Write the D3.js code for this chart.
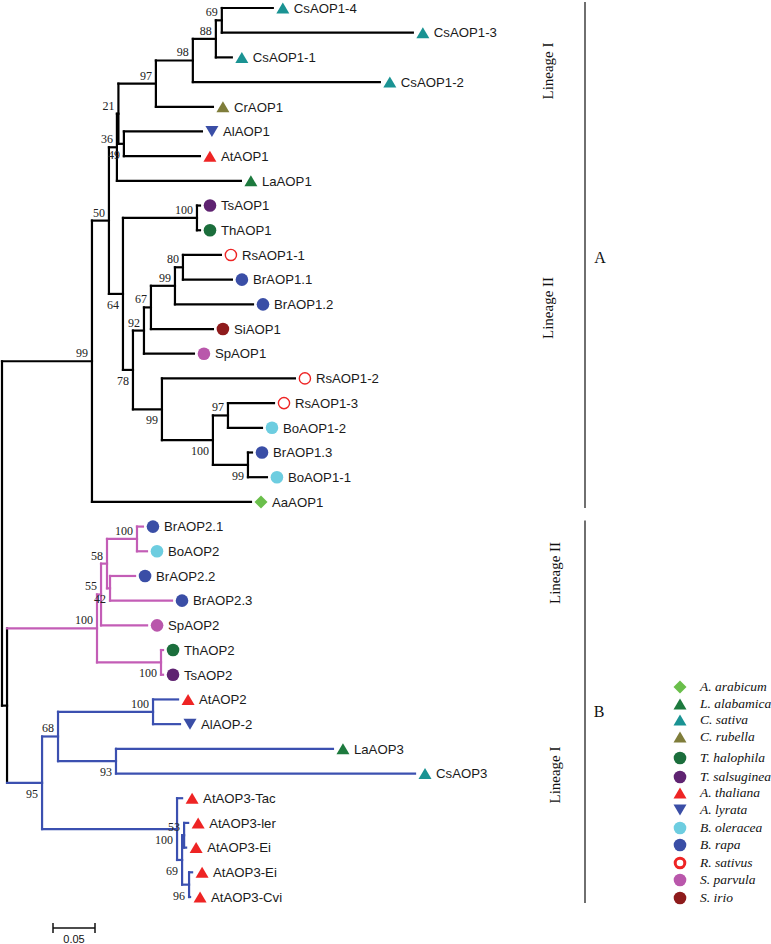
<!DOCTYPE html>
<html><head><meta charset="utf-8">
<script src="https://cdn.jsdelivr.net/npm/d3@7"></script>
<style>body{margin:0;background:#fff}</style>
</head><body><svg id="chart" width="771" height="944"></svg>
<script>
// ---------- DATA ----------
// Tree topology, branch lengths (substitutions/site) and bootstrap values
const cladeA = "((((((((CsAOP1-4:0.0607,CsAOP1-3:0.2274)69:0.0071,CsAOP1-1:0.0190)88:0.0274,CsAOP1-2:0.2226)98:0.0440,CrAOP1:0.0679)97:0.0446,(AlAOP1:0.0929,AtAOP1:0.0905)49:0.0065)21:0.0018,LaAOP1:0.1476)36:0.0095,((TsAOP1:0.0036,ThAOP1:0.0036)100:0.0881,(((((RsAOP1-1:0.0452,BrAOP1.1:0.0583)80:0.0095,BrAOP1.2:0.0929)99:0.0286,SiAOP1:0.0738)67:0.0083,SpAOP1:0.0595)92:0.0131,(RsAOP1-2:0.1583,((RsAOP1-3:0.0548,BoAOP1-2:0.0405)97:0.0179,(BrAOP1.3:0.0048,BoAOP1-1:0.0226)99:0.0417)100:0.0607)99:0.0345)78:0.0119)64:0.0167)50:0.0202,AaAOP1:0.1893)99:0.1071";
const cladeB = "(((((BrAOP2.1:0.0071,BoAOP2:0.0119)100:0.0357,(BrAOP2.2:0.0298,BrAOP2.3:0.0738)42:0.0036)58:0.0071,SpAOP2:0.0548)55:0.0048,(ThAOP2:0.0024,TsAOP2:0.0024)100:0.0762)100:0.1071,(((AtAOP2:0.0298,AlAOP-2:0.0321)100:0.1131,(LaAOP3:0.2583,CsAOP3:0.3560)93:0.0690)68:0.0190,(AtAOP3-Tac:0.0060,((AtAOP3-ler:0.0048,AtAOP3-Ei:0.0024)53:0.0024,(AtAOP3-Ei:0.0036,AtAOP3-Cvi:0.0012)96:0.0083)69:0.0060)100:0.1607)95:0.0417):0.0060";
const newick = "(" + cladeA + "," + cladeB + ");";

// Species legend
const speciesNames  = ["A. arabicum","L. alabamica","C. sativa","C. rubella","T. halophila","T. salsuginea","A. thaliana","A. lyrata","B. oleracea","B. rapa","R. sativus","S. parvula","S. irio"];
const speciesPrefix = ["Aa","La","Cs","Cr","Th","Ts","At","Al","Bo","Br","Rs","Sp","Si"];
const speciesShape  = ["diamond","triangle","triangle","triangle","circle","circle","triangle","triangleDown","circle","circle","ring","circle","circle"];
const speciesColor  = ["#6abf4b","#1d7a3e","#1a9393","#7f7d3a","#1b6e3c","#5f2371","#ee2424","#3a4ea6","#6dcde0","#3a4ea6","#ee2424","#b957ab","#8e1b1c"];

// Coloured sub-clades (defined by two leaves spanning them)
const cladeColourLeaves = [["BrAOP2.1","TsAOP2"],["AtAOP2","AtAOP3-Cvi"]];
const cladeColours = ["#c35db6","#3b50b0"];

const groupLabels = ["A","B"];
const lineageLabels = ["Lineage I","Lineage II","Lineage II","Lineage I"];
const scaleBarValue = 0.05;

// ---------- LAYOUT ----------
const W = 771, H = 944;
const svg = d3.select("#chart");

function parseNewick(s){
  let i = 0;
  function node(){
    const n = {};
    if (s[i] === "("){
      n.children = [];
      i++;
      n.children.push(node());
      while (s[i] === ","){ i++; n.children.push(node()); }
      i++;
    }
    let name = "";
    while (i < s.length && !",():;".includes(s[i])) name += s[i++];
    n.name = name.trim();
    n.length = 0;
    if (s[i] === ":"){
      i++; let l = "";
      while (i < s.length && !",();".includes(s[i])) l += s[i++];
      n.length = +l;
    }
    return n;
  }
  return node();
}

const root = d3.hierarchy(parseNewick(newick));
root.eachBefore(d => { d.len = (d.parent ? d.parent.len : 0) + d.data.length; });
const leaves = root.leaves();

const x = d3.scaleLinear().domain([0, 1]).range([2, 842]);
const y = d3.scaleLinear().domain([0, leaves.length - 1]).range([8, 897]);

leaves.forEach((d, i) => d.py = y(i));
root.eachAfter(d => {
  if (d.children) d.py = (d.children[0].py + d.children[d.children.length - 1].py) / 2;
  d.px = x(d.len);
});

// colours
root.each(d => d.color = "#000");
cladeColourLeaves.forEach((pair, k) => {
  const a = leaves.find(l => l.data.name === pair[0]);
  const b = leaves.find(l => l.data.name === pair[1]);
  const lca = a.path(b).reduce((m, n) => n.depth < m.depth ? n : m);
  lca.each(d => d.color = cladeColours[k]);
});

const gTree = svg.append("g");
// vertical connectors
root.descendants().filter(d => d.children).forEach(d => {
  gTree.append("line")
    .attr("x1", d.px).attr("x2", d.px)
    .attr("y1", d.children[0].py).attr("y2", d.children[d.children.length - 1].py)
    .attr("stroke", d.color).attr("stroke-width", 2.2).attr("stroke-linecap", "square");
});
// horizontal branches
root.descendants().filter(d => d.parent).forEach(d => {
  gTree.append("line")
    .attr("x1", d.parent.px).attr("x2", d.px)
    .attr("y1", d.py).attr("y2", d.py)
    .attr("stroke", d.color).attr("stroke-width", 2.2).attr("stroke-linecap", "square");
});

// bootstrap labels
root.descendants().filter(d => d.children && d.data.name).forEach(d => {
  const upper = d.parent && d.parent.children[0] === d;
  gTree.append("text")
    .attr("x", d.px - 4)
    .attr("y", upper ? d.py - 4 : d.py + 15)
    .attr("text-anchor", "end")
    .attr("font-family", "Liberation Serif, Times New Roman, serif")
    .attr("font-size", 12)
    .attr("fill", "#222")
    .text(d.data.name);
});

function shapePath(shape, s){
  const w = 13 * s, h = 11 * s;
  switch(shape){
    case "triangle": return `M0,${-h/2}L${w/2},${h/2}L${-w/2},${h/2}Z`;
    case "triangleDown": return `M0,${h/2}L${w/2},${-h/2}L${-w/2},${-h/2}Z`;
    case "diamond": { const r = 6.5 * s; return `M0,${-r}L${r},0L0,${r}L${-r},0Z`; }
    default: return null;
  }
}
function drawMarker(g, shape, color, cx, cy, ringW){
  if (shape === "circle"){
    g.append("circle").attr("cx", cx).attr("cy", cy).attr("r", 6.3).attr("fill", color);
  } else if (shape === "ring"){
    g.append("circle").attr("cx", cx).attr("cy", cy).attr("r", 6.3 - ringW/2)
      .attr("fill", "none").attr("stroke", color).attr("stroke-width", ringW);
  } else {
    g.append("path").attr("d", shapePath(shape, 1)).attr("transform", `translate(${cx},${cy})`).attr("fill", color);
  }
}

// leaf markers and names
const gLeaves = svg.append("g");
leaves.forEach(d => {
  const k = speciesPrefix.indexOf(d.data.name.slice(0, 2));
  drawMarker(gLeaves, speciesShape[k], speciesColor[k], d.px + 10, d.py, 1.4);
  gLeaves.append("text")
    .attr("x", d.px + 21).attr("y", d.py).attr("dy", "0.36em")
    .attr("font-family", "Liberation Sans, Arial, sans-serif")
    .attr("font-size", 13.2).attr("fill", "#1a1a1a")
    .text(d.data.name);
});

// group brackets
const bracketX = 585;
const groupRanges = [[0, 20], [21, 36]];
const gGroups = svg.append("g");
groupRanges.forEach((r, i) => {
  const y1 = y(r[0]) - 6, y2 = y(r[1]) + 6;
  gGroups.append("line").attr("x1", bracketX).attr("x2", bracketX).attr("y1", y1).attr("y2", y2)
    .attr("stroke", "#222").attr("stroke-width", 1.3);
});
const groupLabelPos = [[600, 263], [599, 717]];
groupLabels.forEach((t, i) => {
  gGroups.append("text").attr("x", groupLabelPos[i][0]).attr("y", groupLabelPos[i][1])
    .attr("text-anchor", "middle")
    .attr("font-family", "Liberation Serif, Times New Roman, serif").attr("font-size", 16)
    .attr("fill", "#111").text(t);
});
const lineagePos = [[548, 71], [548, 308], [555, 573], [555, 775]];
lineageLabels.forEach((t, i) => {
  gGroups.append("text")
    .attr("transform", `translate(${lineagePos[i][0]},${lineagePos[i][1]}) rotate(-90)`)
    .attr("text-anchor", "middle").attr("dy", "0.35em")
    .attr("font-family", "Liberation Serif, Times New Roman, serif").attr("font-size", 15)
    .attr("fill", "#111").text(t);
});

// legend
const gLeg = svg.append("g");
const legY = [687, 704, 720, 737, 758, 777, 793, 810, 828, 845, 863, 880, 898];
speciesNames.forEach((n, i) => {
  drawMarker(gLeg, speciesShape[i], speciesColor[i], 680, legY[i], 3);
  gLeg.append("text").attr("x", 700).attr("y", legY[i]).attr("dy", "0.33em")
    .attr("font-family", "Liberation Serif, Times New Roman, serif").attr("font-style", "italic")
    .attr("font-size", 13.5).attr("fill", "#111").text(n);
});

// scale bar
const sbX = 53, sbY = 928;
const sbLen = x(scaleBarValue) - x(0);
const gSb = svg.append("g").attr("stroke", "#111").attr("stroke-width", 1.5);
gSb.append("line").attr("x1", sbX).attr("x2", sbX + sbLen).attr("y1", sbY).attr("y2", sbY);
gSb.append("line").attr("x1", sbX).attr("x2", sbX).attr("y1", sbY - 5).attr("y2", sbY + 5);
gSb.append("line").attr("x1", sbX + sbLen).attr("x2", sbX + sbLen).attr("y1", sbY - 5).attr("y2", sbY + 5);
svg.append("text").attr("x", sbX + sbLen / 2).attr("y", 943).attr("text-anchor", "middle")
  .attr("font-family", "Liberation Sans, Arial, sans-serif").attr("font-size", 11).attr("fill", "#111")
  .text(d3.format(".2f")(scaleBarValue));
</script>
</body></html>
